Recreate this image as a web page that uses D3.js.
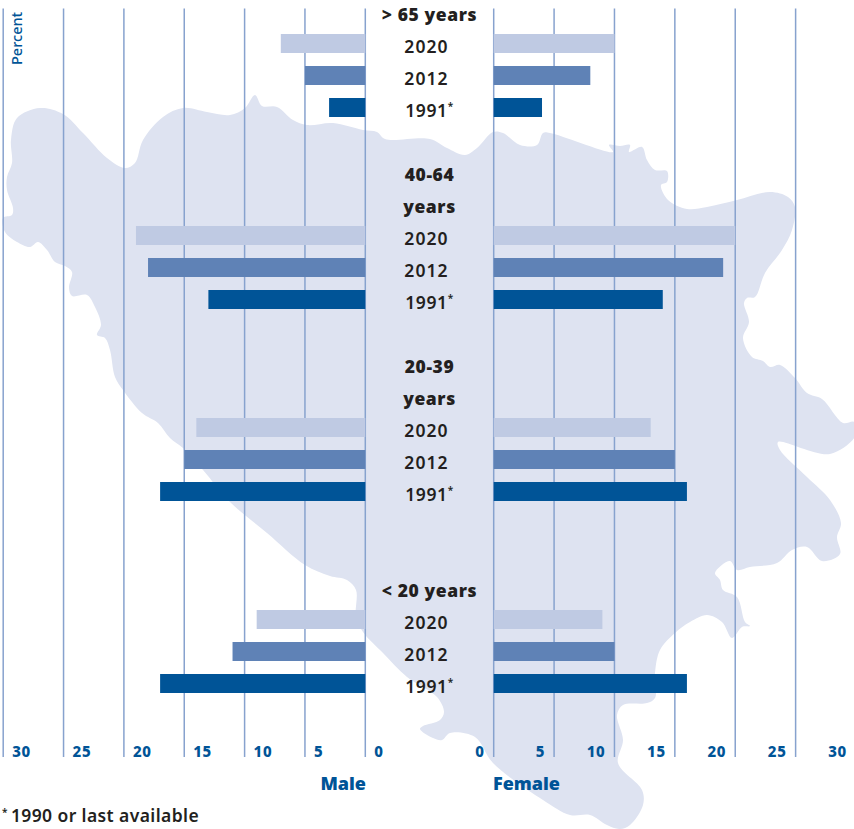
<!DOCTYPE html>
<html>
<head>
<meta charset="utf-8">
<script src="https://cdn.jsdelivr.net/npm/d3@7/dist/d3.min.js"></script>
<style>
html,body{margin:0;padding:0;background:#fff}
svg{display:block}
text{font-family:"Noto Sans",sans-serif}
</style>
</head>
<body>
<svg id="chart" width="854" height="829"></svg>
<script>
const ageGroups = [">65", "40-64", "20-39", "<20"];
const ageLabels = [["> 65 years"], ["40-64", "years"], ["20-39", "years"], ["< 20 years"]];
const ageLabelRows = [[0], [5, 6], [11, 12], [18]];
const years = ["2020", "2012", "1991"];
const maleValues = [[7, 5, 3], [19, 18, 13], [14, 15, 17], [9, 11, 17]];
const femaleValues = [[10, 8, 4], [20, 19, 14], [13, 15, 16], [9, 10, 16]];
const barRows = [[1, 2, 3], [7, 8, 9], [13, 14, 15], [19, 20, 21]];
const tickValues = [0, 5, 10, 15, 20, 25, 30];

// Backdrop silhouette of the country
const mapOutline = [[3,218],[12,215],[13,208],[7,190],[7,177],[12,163],[11,140],[17,118],[40,108],[63,114],[83,133],[107,158],[125,168],[135,163],[143,140],[163,117],[183,108],[207,112],[230,115],[245,108],[255,95],[262,106],[277,107],[293,120],[307,125],[333,123],[363,130],[377,132],[385,139],[430,139],[447,148],[465,155],[477,148],[493,132],[503,133],[520,145],[537,145],[543,133],[550,133],[613,152],[609,145],[620,146],[630,145],[629,152],[642,147],[647,160],[655,170],[667,171],[667,182],[661,185],[668,200],[687,209],[707,207],[737,200],[770,192],[788,197],[795,207],[792,230],[782,250],[765,273],[755,297],[747,298],[744,303],[749,322],[743,338],[752,357],[763,361],[770,367],[780,365],[795,378],[807,393],[822,399],[843,423],[854,422],[856,435],[830,454],[778,442],[780,450],[807,477],[830,500],[841,523],[837,537],[840,554],[822,561],[807,547],[792,550],[777,563],[750,567],[737,570],[730,561],[715,573],[720,580],[723,590],[737,597],[745,622],[750,626],[742,627],[732,638],[722,622],[707,615],[690,622],[675,633],[660,650],[655,673],[655,698],[647,703],[623,705],[617,715],[623,740],[618,763],[642,790],[643,805],[630,825],[620,829],[607,825],[590,815],[570,815],[543,800],[493,763],[475,737],[450,733],[442,740],[433,738],[420,729],[423,726],[440,720],[444,712],[437,697],[407,677],[383,653],[363,632],[356,617],[356,590],[347,580],[330,576],[305,565],[267,533],[230,502],[203,470],[183,448],[170,438],[158,423],[142,413],[123,390],[115,377],[110,350],[105,338],[97,335],[101,325],[95,307],[87,295],[72,296],[69,288],[72,272],[65,266],[55,262],[47,250],[38,242],[30,247],[17,242],[5,232]];

const svg = d3.select("#chart");
const ink = "#231f20", blue = "#005497", gridCol = "#87a2ce";
const yearColor = d3.scaleOrdinal().domain(years).range(["#bfcae3", "#5f82b6", "#005497"]);

const xMale = d3.scaleLinear().domain([0, 30]).range([365.3, 3.2]);
const xFemale = d3.scaleLinear().domain([0, 30]).range([493.7, 856]);
const rowTop = d3.scaleLinear().domain([0, 1]).range([2, 34]);
const rowBase = d3.scaleLinear().domain([0, 1]).range([21, 53]);
const barH = 19, axisY = 757, gridTop = 8.5;

svg.append("path")
  .attr("d", d3.line().curve(d3.curveCatmullRomClosed.alpha(0.5))(mapOutline))
  .attr("fill", "#dee3f1");

function axis(scale, ticks, anchor, dx) {
  const g = svg.append("g")
    .attr("transform", `translate(0,${axisY})`)
    .call(d3.axisBottom(scale).offset(0).tickValues(ticks).tickSize(-(axisY - gridTop)).tickPadding(0));
  g.select(".domain").remove();
  g.selectAll(".tick line").attr("stroke", gridCol).attr("stroke-width", 1.5);
  g.selectAll(".tick text")
    .attr("y", 0).attr("dy", 0).attr("x", dx)
    .attr("text-anchor", anchor)
    .attr("fill", blue)
    .style("font-size", "15px").style("font-weight", 800).style("letter-spacing", "0.7px");
}
axis(xMale, tickValues, "start", 9);
axis(xFemale, tickValues, "end", -9);

function bars(values, scale) {
  ageGroups.forEach((_, g) => {
    svg.append("g").selectAll("rect").data(values[g]).join("rect")
      .attr("x", d => Math.min(scale(0), scale(d)))
      .attr("width", d => Math.abs(scale(d) - scale(0)))
      .attr("y", (d, s) => rowTop(barRows[g][s]))
      .attr("height", barH)
      .attr("fill", (d, s) => yearColor(years[s]));
  });
}
bars(maleValues, xMale);
bars(femaleValues, xFemale);

const centerX = 429.5;
ageGroups.forEach((_, g) => {
  ageLabels[g].forEach((lab, i) => {
    svg.append("text").attr("x", centerX).attr("y", rowBase(ageLabelRows[g][i]))
      .attr("text-anchor", "middle").attr("fill", ink)
      .style("font-size", "17.5px").style("font-weight", 900).style("letter-spacing", "0.6px")
      .text(lab);
  });
  years.forEach((yr, s) => {
    const star = yr === "1991";
    const t = svg.append("text").attr("x", star ? centerX : 426.5).attr("y", rowBase(barRows[g][s]))
      .attr("text-anchor", "middle").attr("fill", ink)
      .style("font-size", "17.5px").style("font-weight", 600).style("letter-spacing", star ? "0.6px" : "1.1px")
      .text(yr);
    if (star) t.append("tspan").attr("dy", -7).style("font-size", "10px").text("*");
  });
});

svg.append("text").attr("transform", "translate(22,65) rotate(-90)")
  .attr("fill", blue).style("font-size", "14.5px").style("font-weight", 500).text("Percent");

svg.append("text").attr("x", 366).attr("y", 790).attr("text-anchor", "end").attr("fill", blue)
  .style("font-size", "18px").style("font-weight", 900).text("Male");
svg.append("text").attr("x", 493).attr("y", 790).attr("fill", blue)
  .style("font-size", "18px").style("font-weight", 900).text("Female");

const foot = svg.append("text").attr("x", 2).attr("y", 822).attr("fill", ink)
  .style("font-size", "17.5px").style("font-weight", 600).style("letter-spacing", "0.4px");
foot.append("tspan").attr("dy", -6).style("font-size", "10px").text("*");
foot.append("tspan").attr("dy", 6).attr("dx", 3).text("1990 or last available");
</script>
</body>
</html>
